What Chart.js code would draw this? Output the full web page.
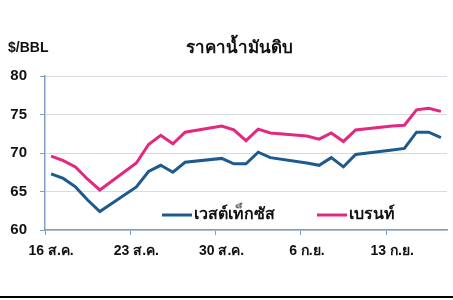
<!DOCTYPE html>
<html>
<head>
<meta charset="utf-8">
<script src="https://cdn.jsdelivr.net/npm/chart.js@4.4.1/dist/chart.umd.min.js"></script>
<style>
  body { margin: 0; background: #fff; }
  #wrap { width: 453px; height: 300px; }
</style>
</head>
<body>
<div id="wrap"><canvas id="myChart" width="453" height="300"></canvas></div>
<script>
// one category per calendar day, 16 Aug - 17 Sep (weekends empty)
var days = ['16/8','17/8','18/8','19/8','20/8','21/8','22/8',
            '23/8','24/8','25/8','26/8','27/8','28/8','29/8',
            '30/8','31/8','1/9','2/9','3/9','4/9','5/9',
            '6/9','7/9','8/9','9/9','10/9','11/9','12/9',
            '13/9','14/9','15/9','16/9','17/9'];
var tickLabels = ['16 ส.ค.', '23 ส.ค.', '30 ส.ค.', '6 ก.ย.', '13 ก.ย.'];
var yTicks = [60, 65, 70, 75, 80];

var wti = [67.3, 66.7, 65.6, 63.9, 62.4, null, null,
           65.6, 67.6, 68.4, 67.5, 68.8, null, null,
           69.3, 68.6, 68.6, 70.1, 69.4, null, null,
           68.7, 68.4, 69.4, 68.2, 69.8, null, null,
           70.4, 70.6, 72.7, 72.7, 72.0];
var brent = [69.6, 69.0, 68.2, 66.6, 65.2, null, null,
             68.7, 71.1, 72.3, 71.2, 72.7, null, null,
             73.5, 73.0, 71.6, 73.1, 72.6, null, null,
             72.2, 71.8, 72.6, 71.5, 73.0, null, null,
             73.5, 73.6, 75.6, 75.8, 75.4];
var seriesNames = ['เวสต์เท็กซัส', 'เบรนท์'];

var blue = '#1d5a8e';
var pink = '#e2287f';
var axisColor = '#7f9fc2';
var font = "'Liberation Sans', 'Noto Sans', sans-serif";

// title, unit, legend and the bottom rule
const extras = {
    id: 'extras',
    afterDraw(chart) {
        const c = chart.ctx;
        c.save();
        c.fillStyle = '#111';
        c.textBaseline = 'middle';
        c.font = 'bold 14px ' + font;
        c.textAlign = 'left';
        c.fillText('$/BBL', 8, 48);
        c.font = 'bold 17px ' + font;
        c.textAlign = 'center';
        c.fillText('ราคาน้ำมันดิบ', 239, 48);

        var items = [[162, blue], [317, pink]];
        c.font = 'bold 16px ' + font;
        c.textAlign = 'left';
        for (var i = 0; i < items.length; i++) {
            var x = items[i][0];
            c.strokeStyle = items[i][1];
            c.lineWidth = 3;
            c.beginPath();
            c.moveTo(x, 215);
            c.lineTo(x + 30, 215);
            c.stroke();
            c.fillStyle = '#111';
            c.fillText(seriesNames[i], x + 32, 215);
        }
        c.fillStyle = '#000';
        c.fillRect(0, 296, 453, 2);
        c.restore();
    }
};

const ctx = document.getElementById('myChart').getContext('2d');
const myChart = new Chart(ctx, {
    type: 'line',
    data: {
        labels: days,
        datasets: [{
            label: seriesNames[0],
            data: wti,
            borderColor: blue,
            borderWidth: 3,
            pointRadius: 0,
            tension: 0,
            spanGaps: true
        }, {
            label: seriesNames[1],
            data: brent,
            borderColor: pink,
            borderWidth: 3,
            pointRadius: 0,
            tension: 0,
            spanGaps: true
        }]
    },
    options: {
        responsive: false,
        animation: false,
        layout: { padding: { top: 76, right: 6, left: 0, bottom: 0 } },
        plugins: {
            legend: { display: false },
            tooltip: { enabled: false }
        },
        scales: {
            x: {
                offset: true,
                grid: {
                    offset: true,
                    drawOnChartArea: false,
                    tickLength: 5,
                    color: function(c) { return c.index % 7 === 0 ? axisColor : 'rgba(0,0,0,0)'; },
                    tickColor: function(c) { return c.index % 7 === 0 ? axisColor : 'rgba(0,0,0,0)'; }
                },
                border: { color: axisColor, width: 1.5 },
                ticks: {
                    autoSkip: false,
                    maxRotation: 0,
                    padding: 8,
                    color: '#111',
                    font: { family: font, size: 14, weight: 'bold' },
                    callback: function(v, i) { return i % 7 === 0 ? tickLabels[i / 7] : ''; }
                },
                afterFit: function(s) { s.height = 70; }
            },
            y: {
                min: yTicks[0],
                max: yTicks[yTicks.length - 1],
                afterBuildTicks: function(s) { s.ticks = yTicks.map(function(v) { return { value: v }; }); },
                grid: {
                    color: '#d5dbe2',
                    borderDash: [3, 3],
                    tickLength: 5,
                    tickColor: axisColor,
                    tickBorderDash: []
                },
                border: { color: axisColor, width: 1.5 },
                ticks: {
                    padding: 13,
                    color: '#111',
                    font: { family: font, size: 15, weight: 'bold' }
                },
                afterFit: function(s) { s.width = 45; }
            }
        }
    },
    plugins: [extras]
});
</script>
</body>
</html>
